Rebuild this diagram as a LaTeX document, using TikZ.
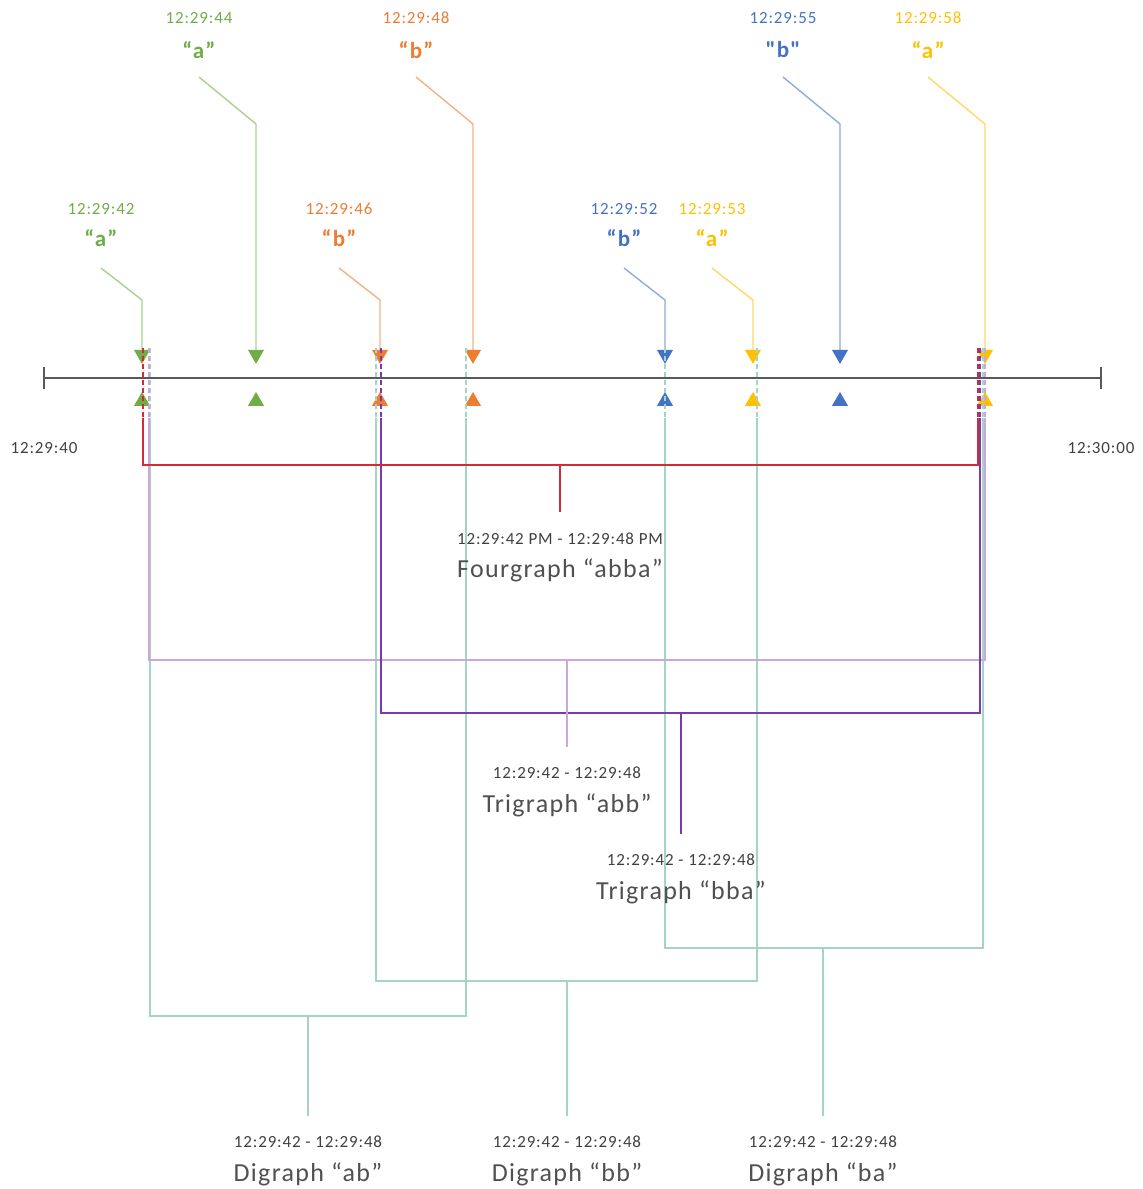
\documentclass[tikz,border=0pt]{standalone}
\usepackage{fontspec}
\setmainfont{Carlito}[LetterSpace=5]
% same face without TeX ligatures, so that a straight " stays straight
\newfontfamily\rawquotes{Carlito}[LetterSpace=5]
\usetikzlibrary{shapes.geometric}

\definecolor{grn}{HTML}{70AD47}
\definecolor{grnL}{HTML}{A9D18E}
\definecolor{org}{HTML}{ED7D31}
\definecolor{orgL}{HTML}{F4B183}
\definecolor{blu}{HTML}{4472C4}
\definecolor{bluL}{HTML}{8FAADC}
\definecolor{ylw}{HTML}{FFC000}
\definecolor{ylwL}{HTML}{FFD966}
\definecolor{fourc}{HTML}{D42A36}
\definecolor{triA}{HTML}{CDA7DC}
\definecolor{triB}{HTML}{7A3AAE}
\definecolor{dic}{HTML}{A4D4C2}
\definecolor{axisc}{HTML}{595959}
\definecolor{txtT}{HTML}{404040}
\definecolor{txtN}{HTML}{505050}

\tikzset{
  tri/.style={regular polygon, regular polygon sides=3, minimum size=18.5pt,
              inner sep=0pt, draw=none},
  tridown/.style={tri, shape border rotate=180},
  lead/.style={line width=1.4pt},
  brk/.style={line width=1.5pt},
  brkdash/.style={brk, dash pattern=on 5pt off 3pt},
  stamp/.style={font=\fontsize{17}{17}\selectfont, inner sep=0pt},
  letter/.style={font=\fontsize{23}{23}\selectfont\bfseries, inner sep=0pt},
  span/.style={font=\fontsize{17}{17}\selectfont, text=txtT, inner sep=0pt},
  title/.style={font=\fontsize{26}{26}\selectfont, text=txtN, inner sep=0pt},
}

\begin{document}
\begin{tikzpicture}[x=1pt,y=-1pt]
\useasboundingbox (0,0) rectangle (1143,1189);

% time axis
\draw[axisc, line width=1.5pt] (44,378) -- (1101,378);
\draw[axisc, line width=1.5pt] (44,367) -- (44,389);
\draw[axisc, line width=1.5pt] (1101,367) -- (1101,389);
\node[stamp, text=txtT] (t0) at (44,448) {12:29:40};
\node[stamp, text=txtT] (t1) at (1101,448) {12:30:00};

% key presses: x / id / colour / light colour / time / letter / level (0 low, 1 high)
\foreach \x/\id/\c/\cl/\t/\q/\hi in {
    142/k1/grn/grnL/12:29:42/{“a”}/0,
    256/k2/grn/grnL/12:29:44/{“a”}/1,
    380/k3/org/orgL/12:29:46/{“b”}/0,
    473/k4/org/orgL/12:29:48/{“b”}/1,
    665/k5/blu/bluL/12:29:52/{“b”}/0,
    753/k6/ylw/ylwL/12:29:53/{“a”}/0,
    840/k7/blu/bluL/12:29:55/{{\rawquotes\bfseries"b"}}/1,
    985/k8/ylw/ylwL/12:29:58/{“a”}/1}{
  \ifnum\hi=1
    \pgfmathsetmacro{\lx}{\x-57}
    \def\ty{18}\def\qy{50}\def\sy{77}\def\by{124}
  \else
    \pgfmathsetmacro{\lx}{\x-41}
    \def\ty{209}\def\qy{238}\def\sy{268}\def\by{300}
  \fi
  \node[stamp, text=\c] (time\id) at (\lx,\ty) {\t};
  \node[letter, text=\c] (char\id) at (\lx,\qy) {\q};
  \coordinate (from\id) at (\lx,\sy);
  \coordinate (bend\id) at (\x,\by);
  \node[tridown, fill=\c] (down\id) at (\x,354.6) {};
  \node[tri, fill=\c] (up\id) at (\x,401.2) {};
  \draw[lead, \cl] (from\id) -- (bend\id) -- (down\id.north);
}

% n-gram brackets: dashed legs across the axis, solid legs and bar below
\newcommand{\ngram}[4]{% colour, left x, right x, bar y
  \draw[brkdash, #1] (#2,348) -- (#2,418);
  \draw[brkdash, #1] (#3,348) -- (#3,418);
  \draw[brk, #1] (#2,418) -- (#2,#4) -- (#3,#4) -- (#3,418);
}

% digraphs
\ngram{dic}{150}{466}{1016}
\ngram{dic}{376}{757}{981}
\ngram{dic}{665}{983}{948}
% trigraphs
\ngram{triA}{149}{985}{660}
\ngram{triB}{381}{980}{713}
% fourgraph
\ngram{fourc}{143}{978}{465}

% labels and stems
\node[span] (fspan) at (560,539) {12:29:42 PM - 12:29:48 PM};
\node[title] (fname) at (560,570) {Fourgraph “abba”};
\coordinate (fbar) at (560,465);
\draw[brk, fourc] (fbar) -- (560,512);

\node[span] (taspan) at (567,773) {12:29:42 - 12:29:48};
\node[title] (taname) at (567,805) {Trigraph “abb”};
\coordinate (tabar) at (567,660);
\draw[brk, triA] (tabar) -- (567,747);

\node[span] (tbspan) at (681,860) {12:29:42 - 12:29:48};
\node[title] (tbname) at (681,892) {Trigraph “bba”};
\coordinate (tbbar) at (681,713);
\draw[brk, triB] (tbbar) -- (681,834);

\node[span] (daspan) at (308,1142) {12:29:42 - 12:29:48};
\node[title] (daname) at (308,1174) {Digraph “ab”};
\coordinate (dabar) at (308,1016);
\draw[brk, dic] (dabar) -- (308,1116);

\node[span] (dbspan) at (567,1142) {12:29:42 - 12:29:48};
\node[title] (dbname) at (567,1174) {Digraph “bb”};
\coordinate (dbbar) at (567,981);
\draw[brk, dic] (dbbar) -- (567,1116);

\node[span] (dcspan) at (823,1142) {12:29:42 - 12:29:48};
\node[title] (dcname) at (823,1174) {Digraph “ba”};
\coordinate (dcbar) at (823,948);
\draw[brk, dic] (dcbar) -- (823,1116);

\end{tikzpicture}
\end{document}
